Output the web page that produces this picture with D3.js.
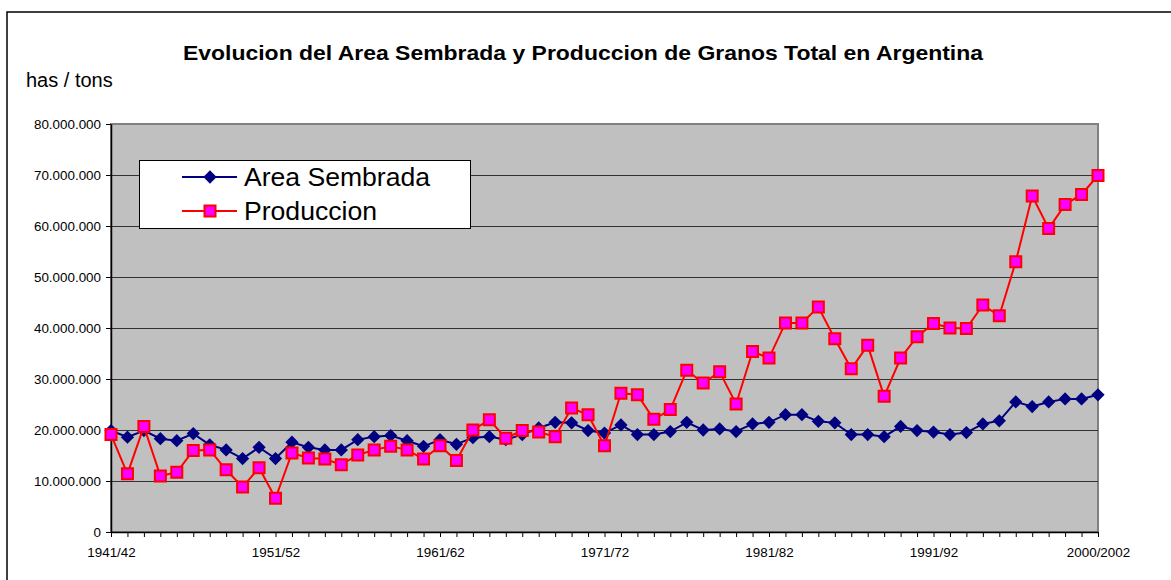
<!DOCTYPE html>
<html>
<head>
<meta charset="utf-8">
<script src="https://cdn.jsdelivr.net/npm/d3@7"></script>
<style>
  html, body { margin: 0; padding: 0; background: #fff; }
  svg { display: block; font-family: Arial, "Liberation Sans", sans-serif; }
</style>
</head>
<body>
<svg id="chart" width="1171" height="580"></svg>
<script>
// Campañas (eje X)
const categories = [
  '1941/42','1942/43','1943/44','1944/45','1945/46','1946/47','1947/48','1948/49','1949/50','1950/51',
  '1951/52','1952/53','1953/54','1954/55','1955/56','1956/57','1957/58','1958/59','1959/60','1960/61',
  '1961/62','1962/63','1963/64','1964/65','1965/66','1966/67','1967/68','1968/69','1969/70','1970/71',
  '1971/72','1972/73','1973/74','1974/75','1975/76','1976/77','1977/78','1978/79','1979/80','1980/81',
  '1981/82','1982/83','1983/84','1984/85','1985/86','1986/87','1987/88','1988/89','1989/90','1990/91',
  '1991/92','1992/93','1993/94','1994/95','1995/96','1996/97','1997/98','1998/99','1999/00','2000/01',
  '2000/2002'
]

// Etiquetas visibles del eje X
const xTickLabels = ['1941/42', '1951/52', '1961/62', '1971/72', '1981/82', '1991/92', '2000/2002']

// Area sembrada (millones de has)
const areaSembrada = [
  19.9, 18.6, 19.9, 18.3, 17.9, 19.3, 17.1, 16.1, 14.4, 16.6,
  14.4, 17.6, 16.6, 16.1, 16.1, 18.1, 18.7, 18.9, 17.9, 16.8,
  18.1, 17.2, 18.5, 18.7, 18.1, 19.1, 20.4, 21.5, 21.4, 19.9,
  19.4, 21.0, 19.1, 19.1, 19.7, 21.5, 20.0, 20.2, 19.7, 21.2,
  21.5, 23.0, 23.0, 21.7, 21.4, 19.1, 19.1, 18.7, 20.7, 19.9,
  19.6, 19.1, 19.5, 21.2, 21.8, 25.5, 24.6, 25.5, 26.1, 26.1,
  26.9
].map(v => v * 1e6)

// Produccion (millones de tons)
const produccion = [
  19.1, 11.4, 20.7, 11.0, 11.7, 16.0, 16.1, 12.2, 8.8, 12.6,
  6.6, 15.5, 14.5, 14.3, 13.2, 15.1, 16.1, 16.8, 16.1, 14.3,
  16.9, 14.0, 20.0, 22.0, 18.4, 19.9, 19.6, 18.7, 24.3, 23.0,
  16.9, 27.2, 26.9, 22.1, 24.0, 31.7, 29.2, 31.4, 25.1, 35.4,
  34.1, 41.0, 41.0, 44.1, 37.9, 32.0, 36.6, 26.6, 34.1, 38.3,
  40.9, 40.0, 39.9, 44.5, 42.4, 53.0, 65.9, 59.5, 64.2, 66.2,
  69.9
].map(v => v * 1e6)

const yTicks = [0, 10e6, 20e6, 30e6, 40e6, 50e6, 60e6, 70e6, 80e6]

const series = [
  { name: 'Area Sembrada', values: areaSembrada, color: '#000080', marker: 'diamond', textLen: 186 },
  { name: 'Produccion', values: produccion, color: '#FF0000', fill: '#FF00FF', marker: 'square', textLen: 133 }
]

const FONT = 'Arial, "Liberation Sans", sans-serif'
const svg = d3.select('#chart')

// Borde exterior del grafico
svg.append('rect')
  .attr('x', 7).attr('y', 12)
  .attr('width', 1200).attr('height', 600)
  .attr('fill', '#fff')
  .attr('stroke', '#000')
  .attr('stroke-width', 1.5)

const plot = { left: 111, right: 1098, top: 124, bottom: 532 }

const x = d3.scalePoint().domain(categories).range([plot.left, plot.right])
const y = d3.scaleLinear().domain([0, 80e6]).range([plot.bottom, plot.top])

const locale = d3.formatLocale({ decimal: ',', thousands: '.', grouping: [3], currency: ['$', ''] })
const fmt = locale.format(',d')

// Titulo
svg.append('text')
  .attr('x', 183).attr('y', 60)
  .attr('textLength', 800)
  .attr('lengthAdjust', 'spacingAndGlyphs')
  .style('font-size', '21px')
  .style('font-weight', 'bold')
  .text('Evolucion del Area Sembrada y Produccion de Granos Total en Argentina')

svg.append('text')
  .attr('x', 26).attr('y', 87)
  .style('font-size', '20px')
  .text('has / tons')

// Area de trazado
svg.append('rect')
  .attr('x', plot.left).attr('y', plot.top)
  .attr('width', plot.right - plot.left)
  .attr('height', plot.bottom - plot.top)
  .attr('fill', '#C0C0C0')
  .attr('stroke', '#808080')
  .attr('stroke-width', 2)

// Lineas de grilla
svg.append('g')
  .selectAll('line')
  .data(yTicks.slice(1, -1))
  .join('line')
  .attr('x1', plot.left).attr('x2', plot.right)
  .attr('y1', d => Math.round(y(d)) + 0.5)
  .attr('y2', d => Math.round(y(d)) + 0.5)
  .attr('stroke', '#333')
  .attr('stroke-width', 1)

// Eje Y
const yAxis = svg.append('g')
  .attr('transform', `translate(${plot.left},0)`)
  .call(d3.axisLeft(y).tickValues(yTicks).tickFormat(fmt).tickSize(5).tickPadding(5).tickSizeOuter(0))
yAxis.attr('font-family', FONT).attr('font-size', 13)
yAxis.select('.domain').attr('stroke', '#000').attr('stroke-width', 1.5)
yAxis.selectAll('.tick line').attr('stroke', '#000')
yAxis.selectAll('text').style('font-size', '13.4px').attr('fill', '#000').attr('dy', '0.34em')

// Eje X
const xAxis = svg.append('g')
  .attr('transform', `translate(0,${plot.bottom})`)
  .call(d3.axisBottom(x).tickSize(5).tickPadding(10).tickSizeOuter(0)
    .tickFormat(d => xTickLabels.includes(d) ? d : ''))
xAxis.attr('font-family', FONT).attr('font-size', 13)
xAxis.select('.domain').attr('stroke', '#000').attr('stroke-width', 1.5)
xAxis.selectAll('.tick line').attr('stroke', '#000')
xAxis.selectAll('text').style('font-size', '13.4px').attr('fill', '#000')

// Series
const diamond = d3.symbol().type(d3.symbolSquare).size(88)
const square = d3.symbol().type(d3.symbolSquare).size(121)

const line = d3.line()
  .x((d, i) => x(categories[i]))
  .y(d => y(d))

series.forEach(s => {
  const g = svg.append('g').attr('class', 'series')
  g.append('path')
    .datum(s.values)
    .attr('fill', 'none')
    .attr('stroke', s.color)
    .attr('stroke-width', 2)
    .attr('d', line)

  const pts = g.selectAll('path.marker')
    .data(s.values)
    .join('path')
    .attr('class', 'marker')

  if (s.marker === 'diamond') {
    pts.attr('d', diamond)
      .attr('transform', (d, i) => `translate(${x(categories[i])},${y(d)}) rotate(45)`)
      .attr('fill', s.color)
  } else {
    pts.attr('d', square)
      .attr('transform', (d, i) => `translate(${x(categories[i])},${y(d)})`)
      .attr('fill', s.fill)
      .attr('stroke', s.color)
      .attr('stroke-width', 2)
  }
})

// Leyenda
const legend = svg.append('g')
legend.append('rect')
  .attr('x', 139.5).attr('y', 160.5)
  .attr('width', 331).attr('height', 68)
  .attr('fill', '#fff')
  .attr('stroke', '#000')
  .attr('stroke-width', 1)

series.forEach((s, i) => {
  const cy = 177 + i * 34
  legend.append('line')
    .attr('x1', 182).attr('x2', 237)
    .attr('y1', cy).attr('y2', cy)
    .attr('stroke', s.color)
    .attr('stroke-width', 2)
  if (s.marker === 'diamond') {
    legend.append('path')
      .attr('d', diamond)
      .attr('transform', `translate(210,${cy}) rotate(45)`)
      .attr('fill', s.color)
  } else {
    legend.append('path')
      .attr('d', square)
      .attr('transform', `translate(210,${cy})`)
      .attr('fill', s.fill)
      .attr('stroke', s.color)
      .attr('stroke-width', 2)
  }
  legend.append('text')
    .attr('x', 244).attr('y', cy + 8.5)
    .attr('textLength', s.textLen)
    .attr('lengthAdjust', 'spacingAndGlyphs')
    .style('font-size', '25px')
    .text(s.name)
})
</script>
</body>
</html>
